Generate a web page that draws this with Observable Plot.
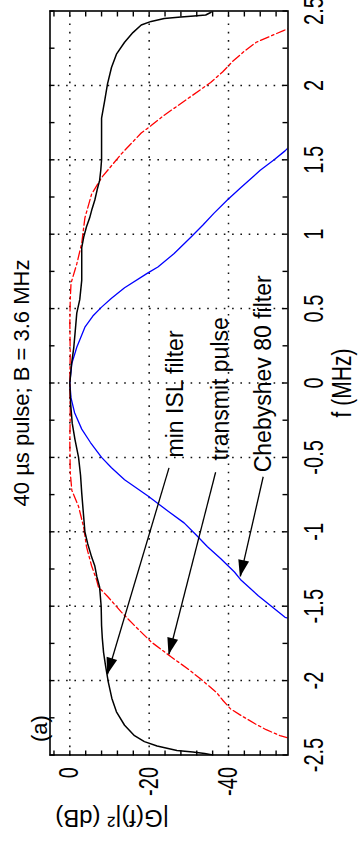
<!DOCTYPE html>
<html>
<head>
<meta charset="utf-8">
<script src="https://cdn.jsdelivr.net/npm/d3@7"></script>
<script src="https://cdn.jsdelivr.net/npm/@observablehq/plot@0.6"></script>
<style>
  html, body { margin: 0; padding: 0; background: #fff; overflow: hidden; }
  #wrap { position: absolute; left: 0; top: 0; width: 360px; height: 845px; overflow: hidden; background: #fff; }
  #chart { position: absolute; width: 845px; height: 360px; left: -242.5px; top: 242.5px;
           transform: rotate(-90deg); transform-origin: center center; }
</style>
</head>
<body>
<div id="wrap"><div id="chart"></div></div>
<script>
// ---- data (f in MHz, |G(f)|^2 in dB) ----
const minIslFilter = [
  [-2.5,-36],[-2.49,-34],[-2.48,-31],[-2.47,-27],[-2.44,-22],[-2.41,-18.8],[-2.37,-16.3],
  [-2.30,-13.8],[-2.21,-11.75],[-2.12,-10.6],[-2.01,-9.7],[-1.90,-9.0],[-1.81,-8.5],[-1.72,-8.2],
  [-1.63,-8.0],[-1.50,-7.9],[-1.37,-7.5],[-1.30,-6.8],[-1.23,-6.3],[-1.17,-5.5],[-1.08,-4.5],
  [-1.00,-3.8],[-0.87,-3.4],[-0.74,-3.0],[-0.62,-2.7],[-0.50,-2.2],[-0.38,-1.3],[-0.27,-0.6],
  [-0.14,-0.2],[0,0],[0.12,-0.4],[0.24,-1.0],[0.36,-1.4],[0.47,-1.75],[0.56,-2.5],[0.69,-3.0],
  [0.78,-3.0],[0.91,-3.0],[0.98,-3.5],[1.05,-4.2],[1.11,-5.0],[1.17,-5.6],[1.23,-6.3],[1.30,-6.9],
  [1.36,-7.5],[1.43,-7.8],[1.50,-8.0],[1.64,-8.0],[1.78,-8.0],[1.90,-8.8],[2.01,-9.5],[2.12,-10.5],
  [2.21,-11.75],[2.29,-13.8],[2.355,-15.9],[2.406,-18],[2.43,-20.5],[2.45,-23.8],[2.46,-28],
  [2.466,-31.3],[2.473,-34.25],[2.49,-35.5],[2.5,-36]
];
const transmitPulse = [
  [-2.385,-55],[-2.37,-53],[-2.33,-49.5],[-2.29,-46.7],[-2.24,-43.5],[-2.19,-40.5],[-2.13,-38.5],
  [-2.08,-37],[-1.99,-33],[-1.92,-29.7],[-1.84,-25.5],[-1.74,-20.5],[-1.63,-16.3],[-1.54,-13],
  [-1.44,-9.7],[-1.37,-7.2],[-1.32,-6.7],[-1.23,-5.5],[-1.10,-4.2],[-0.97,-3.5],[-0.83,-2.2],
  [-0.72,-0.5],[-0.60,-0.1],[-0.4,0],[-0.2,-0.1],[0,0],[0.2,-0.1],[0.4,0],[0.56,-0.1],[0.67,-0.3],
  [0.80,-1.75],[0.94,-3],[1.11,-3.8],[1.27,-5.5],[1.38,-8],[1.46,-10.5],[1.54,-13],[1.68,-18],
  [1.73,-20.5],[1.80,-23.8],[1.91,-29.7],[2.02,-35.5],[2.09,-38.5],[2.16,-41],[2.23,-44],
  [2.29,-47],[2.33,-50.5],[2.37,-54],[2.38,-55]
];
const chebyshev80 = [
  [-1.58,-55],[-1.575,-54.25],[-1.5,-50.8],[-1.43,-47.5],[-1.32,-43],[-1.27,-41.5],[-1.18,-38],
  [-1.10,-34.7],[-1.02,-31.8],[-0.94,-28.8],[-0.86,-24.7],[-0.76,-19.7],[-0.65,-13.8],[-0.57,-10.5],
  [-0.50,-8],[-0.40,-5.2],[-0.31,-3],[-0.20,-1.2],[-0.10,-0.3],[0,0],[0.13,-0.5],[0.24,-1.75],
  [0.375,-3.8],[0.45,-5.8],[0.51,-8],[0.57,-10.5],[0.64,-13.8],[0.74,-19.7],[0.78,-22.2],
  [0.87,-26.3],[0.98,-30.5],[1.06,-33.5],[1.14,-36.3],[1.23,-39.7],[1.31,-43],[1.43,-48],
  [1.50,-51.5],[1.56,-54.25],[1.58,-55]
];

// ---- axes / ticks ----
const fDomain = [-2.5, 2.5];
const dbDomain = [-55, 5];
const fTickLabels = [-2.5, -2, -1.5, -1, -0.5, 0, 0.5, 1, 1.5, 2, 2.5];
const fMinorTicks = d3.range(-2.5, 2.5001, 0.25);
const fGrid = [-2, -1.5, -1, -0.5, 0, 0.5, 1, 1.5, 2];
const dbTickLabels = [0, -20, -40];
const dbMinorTicks = d3.range(-52, 4.001, 4);
const dbGrid = [0, -20, -40];

// ---- text ----
const titleText = "40 \u00b5s pulse; B = 3.6 MHz";
const xLabel = "f (MHz)";
const yLabel = "|G(f)|\u00b2 (dB)";
const panelLabel = "(a)";

// ---- annotations ----
const annLabels = ["min ISL filter", "transmit pulse", "Chebyshev 80 filter"];
const annTextF  = [-0.50, -0.52, -0.60];
const annTextDb = [-26.6, -37.9, -48.9];
const arrowFromF  = [-0.57, -0.60, -0.63];
const arrowFromDb = [-25, -36.75, -48.75];
const arrowToF    = [-1.957, -1.823, -1.30];
const arrowToDb   = [-9.5, -25, -43];

const toRows = (arr) => arr.map(([f, db]) => ({f, db}));
const annotations = annLabels.map((label, i) => ({
  label, tf: annTextF[i], tdb: annTextDb[i],
  f1: arrowFromF[i], db1: arrowFromDb[i], f2: arrowToF[i], db2: arrowToDb[i]
}));

const W = 845, H = 360, mL = 90, mR = 11, mT = 49, mB = 73;
const frameW = W - mL - mR, frameH = H - mT - mB;
const tick = 5;
const font = "'Liberation Sans', Arial, Helvetica, sans-serif";
const dotted = {stroke: "#111", strokeWidth: 1.5, strokeDasharray: "1.6,6.7"};

const plot = Plot.plot({
  width: W, height: H,
  marginLeft: mL, marginRight: mR, marginTop: mT, marginBottom: mB,
  x: {domain: fDomain, label: null},
  y: {domain: dbDomain, label: null},
  style: {fontFamily: font, fontSize: "20px", background: "#fff", color: "#000", overflow: "visible"},
  marks: [
    Plot.ruleX(fGrid, {x: d => d, ...dotted}),
    Plot.ruleY(dbGrid, {y: d => d, ...dotted}),
    Plot.line(toRows(chebyshev80), {x: "f", y: "db", stroke: "#0000ff", strokeWidth: 1.3, clip: true}),
    Plot.line(toRows(transmitPulse), {x: "f", y: "db", stroke: "#ff0000", strokeWidth: 1.3, strokeDasharray: "9,3,2.5,3", clip: true}),
    Plot.line(toRows(minIslFilter), {x: "f", y: "db", stroke: "#000", strokeWidth: 1.5, clip: true}),
    Plot.frame({stroke: "#000", strokeWidth: 1.6}),
    Plot.ruleX(fMinorTicks, {x: d => d, insetTop: frameH - tick, stroke: "#000", strokeWidth: 1.4}),
    Plot.ruleX(fMinorTicks, {x: d => d, insetBottom: frameH - tick, stroke: "#000", strokeWidth: 1.4}),
    Plot.ruleY(dbMinorTicks, {y: d => d, insetRight: frameW - tick, stroke: "#000", strokeWidth: 1.4}),
    Plot.ruleY(dbMinorTicks, {y: d => d, insetLeft: frameW - tick, stroke: "#000", strokeWidth: 1.4}),
    Plot.axisX({ticks: fTickLabels, tickSize: 0, tickPadding: 16, tickFormat: d => String(d), label: null}),
    Plot.axisY({ticks: dbTickLabels, tickSize: 0, tickPadding: 12, tickFormat: d => String(d), label: null}),
    Plot.text([titleText], {frameAnchor: "top", dy: -21, lineAnchor: "bottom", fontSize: 22, fill: "#000"}),
    Plot.text([xLabel], {frameAnchor: "bottom", dy: 63, lineAnchor: "bottom", fontSize: 21, fill: "#000"}),
    Plot.text([yLabel], {frameAnchor: "left", dx: -63, rotate: -90, lineAnchor: "middle", fontSize: 24, fill: "#000"}),
    Plot.text([panelLabel], {frameAnchor: "top-left", dx: 13, dy: -3, textAnchor: "start", lineAnchor: "bottom", fontSize: 22, fill: "#000"}),
    Plot.link(annotations, {x1: "f1", y1: "db1", x2: "f2", y2: "db2", stroke: "#000", strokeWidth: 1.3}),
    Plot.text(annotations, {x: "tf", y: "tdb", text: "label", textAnchor: "start", lineAnchor: "middle", fontSize: 23, fill: "#000"})
  ]
});

// filled arrowheads, positioned through the plot's own scales
(function addHeads() {
  const sx = plot.scale("x"), sy = plot.scale("y");
  const g = d3.select(plot).append("g").attr("aria-label", "arrowheads");
  annotations.forEach(a => {
    const x1 = sx.apply(a.f1), y1 = sy.apply(a.db1), x2 = sx.apply(a.f2), y2 = sy.apply(a.db2);
    const dx = x2 - x1, dy = y2 - y1, L = Math.hypot(dx, dy), ux = dx / L, uy = dy / L;
    const hl = 17, hw = 5.5;
    const bx = x2 - ux * hl, by = y2 - uy * hl;
    g.append("path")
      .attr("d", `M${x2},${y2}L${bx - uy * hw},${by + ux * hw}L${bx + uy * hw},${by - ux * hw}Z`)
      .attr("fill", "#000");
  });
})();

// tall, narrow glyphs like the reference's tick labels
function stretch(t, s) {
  const x = +t.getAttribute("x") || 0, y = +t.getAttribute("y") || 0;
  const tr = t.getAttribute("transform") || "";
  t.setAttribute("transform", `${tr} translate(${x},${y}) scale(1,${s}) translate(${-x},${-y})`);
}
plot.querySelectorAll('[aria-label$="tick label"] text').forEach(t => stretch(t, 1.35));
plot.querySelectorAll("text").forEach(t => { if (t.textContent === xLabel) stretch(t, 1.3); });

document.getElementById("chart").appendChild(plot);
</script>
</body>
</html>
